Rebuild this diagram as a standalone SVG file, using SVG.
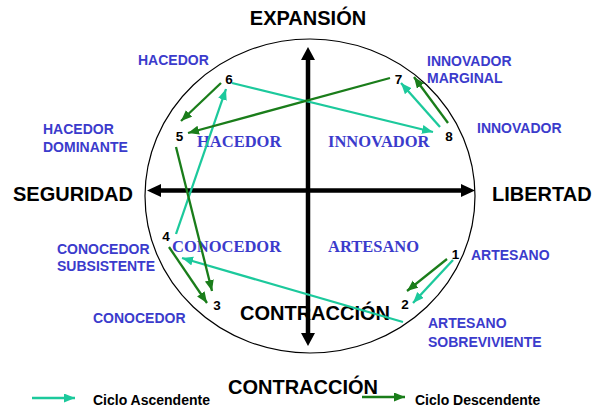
<svg xmlns="http://www.w3.org/2000/svg" width="596" height="409" viewBox="0 0 596 409">
<defs>
<style>
.ax{font-family:"Liberation Sans",Arial,sans-serif;font-weight:bold;font-size:20px;fill:#000}
.ol{font-family:"Liberation Sans",Arial,sans-serif;font-weight:bold;font-size:14px;fill:#3b3bcc}
.il{font-family:"Liberation Serif","Times New Roman",serif;font-weight:bold;font-size:16.5px;fill:#3b3bcc}
.num{font-family:"Liberation Sans",Arial,sans-serif;font-weight:bold;font-size:13.5px;fill:#000}
.lg{font-family:"Liberation Sans",Arial,sans-serif;font-weight:bold;font-size:14px;fill:#000}
.cy{stroke:#1cc99c;stroke-width:2.3;fill:none;marker-end:url(#mc)}
.gr{stroke:#1a7d1a;stroke-width:2.3;fill:none;marker-end:url(#mg)}
</style>
<marker id="mc" markerUnits="userSpaceOnUse" markerWidth="12" markerHeight="10" refX="11" refY="4.5" orient="auto"><path d="M0,0 L11,4.5 L0,9 z" fill="#1cc99c"/></marker>
<marker id="mg" markerUnits="userSpaceOnUse" markerWidth="12" markerHeight="10" refX="11" refY="4.5" orient="auto"><path d="M0,0 L11,4.5 L0,9 z" fill="#1a7d1a"/></marker>
</defs>
<rect width="596" height="409" fill="#fff"/>
<g id="circle"><ellipse cx="310" cy="196" rx="165" ry="157" fill="none" stroke="#000" stroke-width="1.2"/></g>
<g id="axes">
<line x1="308" y1="58" x2="308" y2="335" stroke="#000" stroke-width="4.5"/>
<polygon points="308,47 315,60 301,60" fill="#000"/>
<polygon points="308,346 315,333 301,333" fill="#000"/>
<line x1="158" y1="190.5" x2="464" y2="190.5" stroke="#000" stroke-width="4.5"/>
<polygon points="147,190.5 161,184 161,197" fill="#000"/>
<polygon points="475,190.5 461,184 461,197" fill="#000"/>
</g>
<g id="axis-labels">
<text class="ax" x="308" y="25" text-anchor="middle">EXPANSIÓN</text>
<text class="ax" x="13" y="201">SEGURIDAD</text>
<text class="ax" x="492" y="201">LIBERTAD</text>
<text class="ax" x="240" y="320">CONTRACCIÓN</text>
<text class="ax" x="228" y="394">CONTRACCIÓN</text>
</g>
<g id="outer-labels">
<text class="ol" x="138" y="65">HACEDOR</text>
<text class="ol" x="43" y="134">HACEDOR</text>
<text class="ol" x="43" y="152">DOMINANTE</text>
<text class="ol" x="57" y="254">CONOCEDOR</text>
<text class="ol" x="57" y="271">SUBSISTENTE</text>
<text class="ol" x="93" y="323">CONOCEDOR</text>
<text class="ol" x="427" y="66">INNOVADOR</text>
<text class="ol" x="427" y="83">MARGINAL</text>
<text class="ol" x="477" y="133">INNOVADOR</text>
<text class="ol" x="471" y="260">ARTESANO</text>
<text class="ol" x="428" y="328">ARTESANO</text>
<text class="ol" x="428" y="347">SOBREVIVIENTE</text>
</g>
<g id="inner-labels">
<text class="il" x="197" y="147">HACEDOR</text>
<text class="il" x="328" y="147">INNOVADOR</text>
<text class="il" x="172" y="252">CONOCEDOR</text>
<text class="il" x="328" y="252">ARTESANO</text>
</g>
<g id="nodes">
<g id="n1"><text class="num" x="455.5" y="259" text-anchor="middle">1</text></g>
<g id="n2"><text class="num" x="405" y="309" text-anchor="middle" font-size="12">2</text></g>
<g id="n3"><text class="num" x="217" y="310" text-anchor="middle">3</text></g>
<g id="n4"><text class="num" x="166" y="241" text-anchor="middle">4</text></g>
<g id="n5"><text class="num" x="179.5" y="141" text-anchor="middle">5</text></g>
<g id="n6"><text class="num" x="229" y="84" text-anchor="middle">6</text></g>
<g id="n7"><text class="num" x="398.5" y="84" text-anchor="middle">7</text></g>
<g id="n8"><text class="num" x="449" y="141" text-anchor="middle">8</text></g>
</g>
<g id="connectors">
<path class="cy" d="M453,260 L413,303"/>
<path class="cy" d="M403,322 L182,258"/>
<path class="cy" d="M176,234 L226,89"/>
<path class="cy" d="M232,83 L433,132"/>
<path class="cy" d="M440,127 L401,83"/>
<path class="gr" d="M447,259 L407,291"/>
<path class="gr" d="M448,123 L414,77"/>
<path class="gr" d="M390,78 L188,133"/>
<path class="gr" d="M221,83 L181,121"/>
<path class="gr" d="M176,147 L212,291"/>
<path class="gr" d="M169,247 L207,303"/>
</g>
<g id="legend">
<path class="cy" d="M32,398 L75,398"/>
<text class="lg" x="93" y="405">Ciclo Ascendente</text>
<path class="gr" d="M362,397 L405,397"/>
<text class="lg" x="415" y="405">Ciclo Descendente</text>
</g>
</svg>
